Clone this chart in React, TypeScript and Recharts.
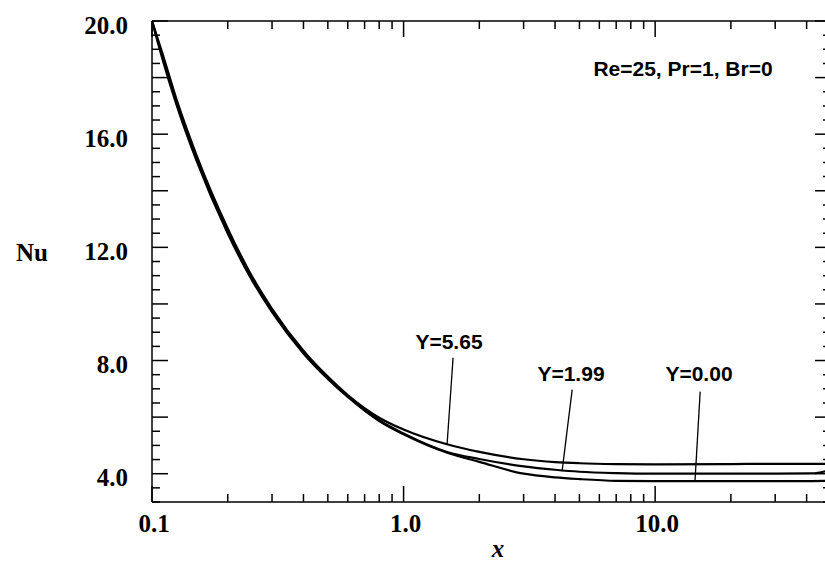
import React from 'react';
import { LineChart, Line, XAxis, YAxis, ReferenceLine } from 'recharts';

// x positions along the duct (log axis)
const xs = [0.1, 0.11, 0.125, 0.15, 0.2, 0.25, 0.3, 0.4, 0.5, 0.6, 0.8, 1.0, 1.5, 2, 3, 4, 5, 7, 10, 20, 30, 42, 50];

// Nu at Y=5.65
const nu565 = [20.0, 18.86, 17.25, 15.28, 12.67, 10.97, 9.83, 8.35, 7.43, 6.78, 5.98, 5.56, 5.03, 4.77, 4.51, 4.41, 4.37, 4.34, 4.33, 4.34, 4.35, 4.35, 4.35];
// Nu at Y=1.99
const nu199 = [20.0, 18.76, 17.15, 15.18, 12.58, 10.9, 9.77, 8.3, 7.39, 6.74, 5.89, 5.42, 4.76, 4.52, 4.26, 4.14, 4.07, 4.02, 4.0, 4.0, 4.0, 4.01, 4.14];
// Nu at Y=0.00
const nu000 = [20.0, 18.66, 17.05, 15.08, 12.49, 10.83, 9.71, 8.25, 7.35, 6.71, 5.86, 5.39, 4.73, 4.42, 4.0, 3.87, 3.81, 3.75, 3.74, 3.74, 3.74, 3.74, 3.75];

const xTicks = [0.1, 0.2, 0.3, 0.4, 0.5, 0.6, 0.7, 0.8, 0.9, 1, 2, 3, 4, 5, 6, 7, 8, 9, 10, 20, 30, 40, 50];
const xLabels = [0.1, 1, 10];
const yTicks = Array.from({ length: 35 }, (_, i) => 3 + i * 0.5);
const yLabels = [4, 8, 12, 16, 20];

const data = xs.map((x, i) => ({ x, y565: nu565[i], y199: nu199[i], y000: nu000[i] }));

const serif = '"Liberation Serif", "Times New Roman", serif';
const sans = '"Liberation Sans", Arial, Helvetica, sans-serif';

const isMajorX = (v: number) => xLabels.some((m) => Math.abs(m - v) < 1e-9);
const isLongY = (v: number) => Math.abs(v % 2) < 1e-9;

function BottomTick({ x, y, payload }: any) {
  const v = payload.value;
  const major = isMajorX(v);
  return (
    <g>
      <line x1={x} y1={y} x2={x} y2={y - (major ? 16 : 8)} stroke="#000" strokeWidth={1.5} />
      {major && (
        <text x={x + 2} y={y + 21} textAnchor="middle" dominantBaseline="central" fontFamily={serif} fontWeight="bold" fontSize={25} fill="#000">
          {v.toFixed(1)}
        </text>
      )}
    </g>
  );
}

function TopTick({ x, y, payload }: any) {
  const major = isMajorX(payload.value);
  return <line x1={x} y1={y} x2={x} y2={y + (major ? 16 : 8)} stroke="#000" strokeWidth={1.5} />;
}

function LeftTick({ x, y, payload }: any) {
  const v = payload.value;
  const long = isLongY(v);
  const label = yLabels.includes(v);
  return (
    <g>
      <line x1={x} y1={y} x2={x + (long ? 16 : 8)} y2={y} stroke="#000" strokeWidth={1.5} />
      {label && (
        <text x={x - 24} y={y + 4} textAnchor="end" dominantBaseline="central" fontFamily={serif} fontWeight="bold" fontSize={25} fill="#000">
          {v.toFixed(1)}
        </text>
      )}
    </g>
  );
}

function RightTick({ x, y, payload }: any) {
  const long = isLongY(payload.value);
  return <line x1={x} y1={y} x2={x - (long ? 16 : 8)} y2={y} stroke="#000" strokeWidth={1.5} />;
}

export default function App() {
  const lineProps = { xAxisId: 'bottom', yAxisId: 'left', type: 'monotone' as const, stroke: '#000', strokeWidth: 2.2, dot: false, isAnimationActive: false };
  const leader = { xAxisId: 'bottom', yAxisId: 'left', stroke: '#000', strokeWidth: 1.3, ifOverflow: 'visible' as const };
  const note = { textAnchor: 'middle' as const, dominantBaseline: 'central' as const, fontFamily: sans, fontWeight: 'bold', fontSize: 21, fill: '#000' };
  return (
    <div style={{ position: 'fixed', left: 0, top: 0, width: 825, height: 564, overflow: 'hidden', background: '#fff' }}>
      <LineChart width={845} height={564} data={data} margin={{ top: 11, right: 4, bottom: 32, left: 92 }}>
        <XAxis
          xAxisId="bottom"
          dataKey="x"
          type="number"
          scale="log"
          domain={[0.1, 50]}
          allowDataOverflow
          ticks={xTicks}
          interval={0}
          height={30}
          tickSize={0}
          tickMargin={0}
          tickLine={false}
          axisLine={{ stroke: '#000', strokeWidth: 1.5 }}
          tick={<BottomTick />}
        />
        <XAxis
          xAxisId="top"
          orientation="top"
          dataKey="x"
          type="number"
          scale="log"
          domain={[0.1, 50]}
          allowDataOverflow
          ticks={xTicks}
          interval={0}
          height={10}
          tickSize={0}
          tickMargin={0}
          tickLine={false}
          axisLine={{ stroke: '#000', strokeWidth: 1.5 }}
          tick={<TopTick />}
        />
        <YAxis
          yAxisId="left"
          type="number"
          domain={[3, 20]}
          allowDataOverflow
          ticks={yTicks}
          interval={0}
          width={60}
          tickSize={0}
          tickMargin={0}
          tickLine={false}
          axisLine={{ stroke: '#000', strokeWidth: 1.5 }}
          tick={<LeftTick />}
        />
        <YAxis
          yAxisId="right"
          orientation="right"
          type="number"
          domain={[3, 20]}
          allowDataOverflow
          ticks={yTicks}
          interval={0}
          width={10}
          tickSize={0}
          tickMargin={0}
          tickLine={false}
          axisLine={{ stroke: '#000', strokeWidth: 1.5 }}
          tick={<RightTick />}
        />
        <Line {...lineProps} dataKey="y565" />
        <Line {...lineProps} dataKey="y199" />
        <Line {...lineProps} dataKey="y000" />
        <ReferenceLine {...leader} segment={[{ x: 1.573, y: 8.1 }, { x: 1.489, y: 5.03 }]} />
        <ReferenceLine {...leader} segment={[{ x: 4.68, y: 6.97 }, { x: 4.27, y: 4.12 }]} />
        <ReferenceLine {...leader} segment={[{ x: 15.1, y: 6.9 }, { x: 14.4, y: 3.74 }]} />
      </LineChart>
      <svg width={825} height={564} style={{ position: 'absolute', left: 0, top: 0, pointerEvents: 'none' }}>
        <text {...note} x={683} y={68}>Re=25, Pr=1, Br=0</text>
        <text {...note} x={449} y={341}>Y=5.65</text>
        <text {...note} x={571} y={373}>Y=1.99</text>
        <text {...note} x={699} y={373}>Y=0.00</text>
        <text x={32} y={252} textAnchor="middle" dominantBaseline="central" fontFamily={serif} fontWeight="bold" fontSize={25} fill="#000">
          Nu
        </text>
        <text x={498} y={548} textAnchor="middle" dominantBaseline="central" fontFamily={serif} fontWeight="bold" fontStyle="italic" fontSize={25} fill="#000">
          x
        </text>
      </svg>
    </div>
  );
}
